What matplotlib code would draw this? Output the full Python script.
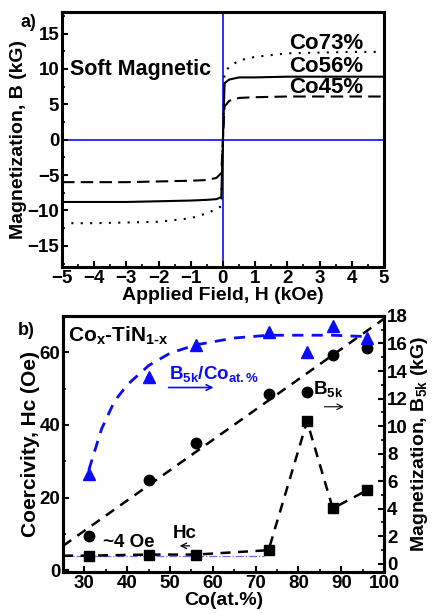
import matplotlib
matplotlib.use("Agg")
import matplotlib.pyplot as plt
from matplotlib.ticker import MultipleLocator

plt.rcParams["font.family"] = ["Liberation Sans", "DejaVu Sans"]
plt.rcParams["font.weight"] = "bold"
plt.rcParams["mathtext.fontset"] = "custom"
plt.rcParams["mathtext.rm"] = "Liberation Sans:bold"
plt.rcParams["mathtext.it"] = "Liberation Sans:bold"
plt.rcParams["mathtext.bf"] = "Liberation Sans:bold"

# --- panel a: hysteresis loops ---
h_field = [-5, -4, -3, -2, -1, -0.5, -0.2, -0.05, 0, 0.05, 0.2, 0.5, 1, 2, 3, 4, 5]
b_co73 = [-11.8, -11.8, -11.7, -11.6, -11.1, -10.4, -9.8, -9.4, 0,
          9.5, 10.3, 11.2, 11.7, 12.2, 12.3, 12.4, 12.4]
b_co56 = [-8.8, -8.8, -8.8, -8.7, -8.6, -8.5, -8.4, -8.1, 0,
          8.0, 8.5, 8.8, 8.8, 8.9, 8.9, 8.9, 8.9]
b_co45 = [-6.0, -6.0, -6.0, -5.9, -5.8, -5.7, -5.4, -4.7, 0,
          4.7, 5.5, 5.9, 6.0, 6.1, 6.1, 6.1, 6.1]

# --- panel b: Co content series ---
co_at = [31, 45, 56, 73, 82, 88, 96]
hc_oe = [4.0, 4.3, 4.3, 5.5, 41, 17, 22]
b5k_kg = [2.0, 6.1, 8.8, 12.3, 12.5, 15.2, 15.7]
b5k_per_co = [6.5, 13.6, 15.9, 16.8, 15.4, 17.3, 16.4]

# guide lines drawn in the figure
hc_guide_x = [25, 31, 45, 56, 73, 82, 88, 96]
hc_guide_y = [4.0, 4.0, 4.3, 4.3, 5.5, 41, 17, 22]
b5k_fit_x = [25, 100]
b5k_fit_y = [1.3, 17.8]
ratio_guide_x = [31, 34, 37, 40, 45, 50, 56, 65, 73, 80, 88, 96]
ratio_guide_y = [6.8, 9.8, 11.8, 13.0, 14.4, 15.3, 15.9, 16.4, 16.6, 16.6, 16.6, 16.5]
hc_floor_x = [25, 72]
hc_floor_y = [4.0, 4.0]

blue = "#0a0aff"
lab_fs = 14
tick_fs = 13.5

fig = plt.figure(figsize=(4.35, 6.14), dpi=100)

# ---------------- panel a ----------------
ax1 = fig.add_axes([0.1425, 0.565, 0.740, 0.415])
ax1.axhline(0, color=blue, lw=1.2, zorder=1)
ax1.axvline(0, color=blue, lw=1.2, zorder=1)
ax1.plot(h_field, b_co73, color="black", lw=1.5, linestyle=(0, (1, 3.5)))
ax1.plot(h_field, b_co56, color="black", lw=1.5, linestyle="-")
ax1.plot(h_field, b_co45, color="black", lw=1.5, linestyle=(0, (6, 3)))
ax1.set_xlim(-5, 5)
ax1.set_ylim(-18, 18)
ax1.xaxis.set_major_locator(MultipleLocator(1))
ax1.xaxis.set_minor_locator(MultipleLocator(0.5))
ax1.yaxis.set_major_locator(MultipleLocator(5))
ax1.yaxis.set_minor_locator(MultipleLocator(2.5))
ax1.set_xlabel("Applied Field, H (kOe)", fontsize=lab_fs, fontweight="bold", labelpad=0)
ax1.set_ylabel("Magnetization, B (kG)", fontsize=lab_fs, fontweight="bold", labelpad=0)
ax1.text(-4.75, 9.9, "Soft Magnetic", fontsize=15.5, fontweight="bold", va="center")
ax1.text(3.2, 13.6, "Co73%", fontsize=16, ha="center", va="center")
ax1.text(3.2, 10.4, "Co56%", fontsize=16, ha="center", va="center")
ax1.text(3.2, 7.4, "Co45%", fontsize=16, ha="center", va="center")
fig.text(0.047, 0.963, "a)", fontsize=13, fontweight="bold", va="center")

# ---------------- panel b ----------------
ax2 = fig.add_axes([0.145, 0.0684, 0.738, 0.417])
ax3 = ax2.twinx()

ax2.plot(hc_floor_x, hc_floor_y, color="#6f6fff", lw=0.9, linestyle="-.", zorder=2)
ax2.plot(hc_guide_x, hc_guide_y, color="black", lw=1.8, linestyle=(0, (4, 3)), zorder=2)
ax2.plot(co_at, hc_oe, "s", color="black", markersize=7, zorder=3)

ax3.plot(b5k_fit_x, b5k_fit_y, color="black", lw=1.8, linestyle=(0, (4, 3)), zorder=2)
ax3.plot(co_at, b5k_kg, "o", color="black", markersize=7.5, zorder=3)
ax3.plot(ratio_guide_x, ratio_guide_y, color=blue, lw=2, linestyle=(0, (4, 3)), zorder=2)
ax3.plot(co_at, b5k_per_co, "^", color=blue, markersize=8.5, zorder=3)

ax2.set_xlim(25, 100)
ax2.set_ylim(-0.5, 70)
ax3.set_ylim(-0.6, 18)
ax2.xaxis.set_major_locator(MultipleLocator(10))
ax2.xaxis.set_minor_locator(MultipleLocator(5))
ax2.yaxis.set_major_locator(MultipleLocator(20))
ax2.yaxis.set_minor_locator(MultipleLocator(10))
ax3.yaxis.set_major_locator(MultipleLocator(2))
ax3.yaxis.set_minor_locator(MultipleLocator(1))

ax2.set_xlabel("Co(at.%)", fontsize=lab_fs, fontweight="bold", labelpad=0)
ax2.set_ylabel("Coercivity, Hc (Oe)", fontsize=15, fontweight="bold", labelpad=0)
ax3.set_ylabel(r"Magnetization, B$_{\rm 5k}$ (kG)", fontsize=lab_fs,
               fontweight="bold", labelpad=1)

ax2.text(26.2, 64.4, r"Co$_{\rm x}$-TiN$_{\rm 1\text{-}x}$", fontsize=15, va="center")
ax2.text(49.8, 54.0, r"B$_{\rm 5k}$/Co$_{\rm at.\%}$", fontsize=13.5, color=blue, va="center")
ax2.annotate("", xy=(60.8, 50.3), xytext=(49.0, 50.3),
             arrowprops=dict(arrowstyle="->", color=blue, lw=1.2))
ax2.text(83.3, 49.8, r"B$_{\rm 5k}$", fontsize=13.5, va="center")
ax2.annotate("", xy=(91.2, 45.0), xytext=(85.4, 45.0),
             arrowprops=dict(arrowstyle="->", color="black", lw=0.8))
ax2.text(40.3, 7.6, "~4 Oe", fontsize=13.5, ha="center", va="center")
ax2.text(53.3, 10.2, "Hc", fontsize=13.5, ha="center", va="center")
ax2.annotate("", xy=(51.6, 6.7), xytext=(55.2, 6.7),
             arrowprops=dict(arrowstyle="->", color="black", lw=0.9))
fig.text(0.042, 0.462, "b)", fontsize=13, fontweight="bold", va="center")

for ax in (ax1, ax2, ax3):
    for sp in ax.spines.values():
        sp.set_linewidth(2.2)
    ax.tick_params(which="major", direction="in", length=4.5, width=1.5,
                   labelsize=tick_fs, pad=2)
    ax.tick_params(which="minor", direction="in", length=2.5, width=1.2)
    for lbl in ax.get_xticklabels() + ax.get_yticklabels():
        lbl.set_fontweight("bold")
ax1.tick_params(which="both", top=False, right=False)
ax2.tick_params(which="both", top=False, right=False)
ax3.tick_params(which="both", left=False)

fig.savefig("out.png", dpi=100)
